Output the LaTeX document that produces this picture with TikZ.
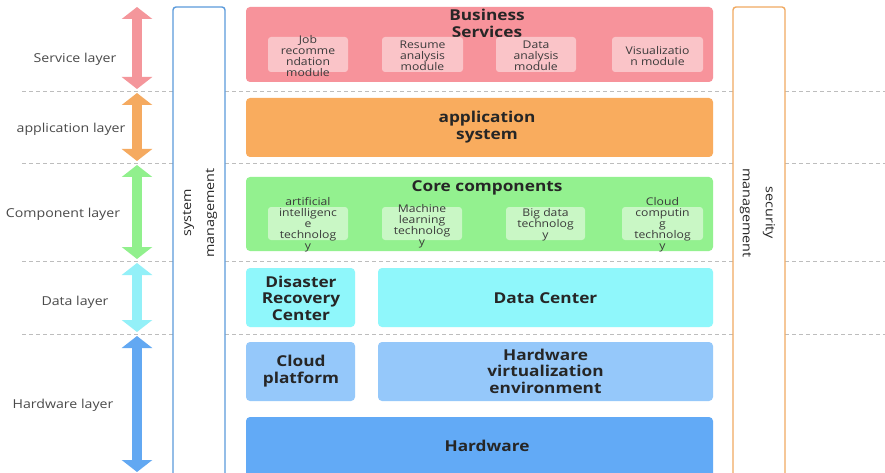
\documentclass[tikz,border=0pt]{standalone}
\usepackage{fontspec}
\setmainfont{Open Sans}[FakeStretch=1.15]
\usetikzlibrary{arrows.meta,fit}

% fills
\definecolor{svcbox}{HTML}{F7939B}
\definecolor{svcsub}{HTML}{FAC4C8}
\definecolor{appbox}{HTML}{F9AC5E}
\definecolor{corebox}{HTML}{93F18F}
\definecolor{coresub}{HTML}{C9F7C5}
\definecolor{databox}{HTML}{8FF7FB}
\definecolor{hwlight}{HTML}{95C8FA}
\definecolor{hwdark}{HTML}{62AAF6}
% arrows
\definecolor{svcarr}{HTML}{F4969B}
\definecolor{apparr}{HTML}{F5AA60}
\definecolor{corearr}{HTML}{91F08D}
\definecolor{dataarr}{HTML}{93F0F8}
\definecolor{hwarr}{HTML}{62A8F2}
% frames and text
\definecolor{sysframe}{HTML}{5C9BDB}
\definecolor{secframe}{HTML}{F0AA62}
\definecolor{sepline}{HTML}{BDBDBD}
\definecolor{labeltext}{HTML}{4A4A4A}
\definecolor{maintext}{HTML}{262626}
\definecolor{subtext}{HTML}{3A3A3A}

\begin{document}
\begin{tikzpicture}[x=1pt,y=-1pt,
  blk/.style={rounded corners=4pt, inner sep=0pt, draw=none},
  sub/.style={rounded corners=3pt, inner sep=0pt, draw=none},
  ttl/.style={font=\fontsize{15}{17}\selectfont\bfseries, text=maintext, align=center, inner sep=0pt},
  subtxt/.style={font=\fontsize{10.6}{11}\selectfont, text=subtext, align=center, inner sep=0pt},
  laylbl/.style={font=\fontsize{12.3}{14}\selectfont, text=labeltext, inner sep=0pt},
  mgmt/.style={font=\fontsize{12.5}{23}\selectfont, text=maintext, align=center, inner sep=0pt},
  frame/.style={rounded corners=3pt, line width=1.4pt, fill=white, inner sep=0pt},
  sep/.style={draw=sepline, line width=0.8pt, dash pattern=on 4pt off 3pt},
  span/.style={line width=10pt, {Triangle[width=30pt,length=12pt]}-{Triangle[width=30pt,length=12pt]}},
]
\useasboundingbox (0,0) rectangle (885,473);
\clip (0,0) rectangle (885,473);
\fill[white] (0,0) rectangle (885,473);

% layer separators
\foreach \yy/\nm in {91/a,163/b,261/c,334/d}{
  \coordinate (sepL\nm) at (22,\yy);
  \coordinate (sepR\nm) at (885,\yy);
  \draw[sep] (sepL\nm) -- (sepR\nm);
}

% side management columns
\node[frame, draw=sysframe, fit={(173,7) (225,490)}] (sysm) {};
\node[frame, draw=secframe, fit={(733,7) (785,490)}] (secm) {};
\node[mgmt, rotate=90] (systxt) at (200,213) {system\\management};
\node[mgmt, rotate=-90] (sectxt) at (757.5,213) {security\\management};

% service layer
\node[blk, fill=svcbox, fit={(246,7) (713,82)}] (bs) {};
\node[ttl] (bstxt) at (487,23.5) {Business\\Services};
\node[sub, fill=svcsub, fit={(268,37) (348,72)}] (job) {};
\node[sub, fill=svcsub, fit={(382,37) (463,72)}] (resume) {};
\node[sub, fill=svcsub, fit={(496,37) (576,72)}] (dana) {};
\node[sub, fill=svcsub, fit={(612,37) (703,72)}] (vis) {};
\node[subtxt] (jobtxt) at (308,56) {Job\\recomme\\ndation\\module};
\node[subtxt] (resumetxt) at (422.5,56) {Resume\\analysis\\module};
\node[subtxt] (danatxt) at (536,56) {Data\\analysis\\module};
\node[subtxt] (vistxt) at (657.5,56) {Visualizatio\\n module};

% application layer
\node[blk, fill=appbox, fit={(246,98) (713,157)}] (app) {};
\node[ttl] (apptxt) at (487,127.5) {application\\system};

% component layer
\node[blk, fill=corebox, fit={(246,177) (713,251)}] (core) {};
\node[ttl] (coretxt) at (487,188) {Core components};
\node[sub, fill=coresub, fit={(268,207) (348,240)}] (ai) {};
\node[sub, fill=coresub, fit={(382,207) (462,240)}] (ml) {};
\node[sub, fill=coresub, fit={(506,207) (585,240)}] (bd) {};
\node[sub, fill=coresub, fit={(622,207) (703,240)}] (cc) {};
\node[subtxt] (aitxt) at (308,225) {artificial\\intelligenc\\e\\technolog\\y};
\node[subtxt] (mltxt) at (422,226) {Machine\\learning\\technolog\\y};
\node[subtxt] (bdtxt) at (545.5,225) {Big data\\technolog\\y};
\node[subtxt] (cctxt) at (662.5,225) {Cloud\\computin\\g\\technolog\\y};

% data layer
\node[blk, fill=databox, fit={(246,268) (355,327)}] (drc) {};
\node[ttl, font=\fontsize{15}{16.5}\selectfont\bfseries] (drctxt) at (301,298) {Disaster\\Recovery\\Center};
\node[blk, fill=databox, fit={(378,268) (713,327)}] (dc) {};
\node[ttl] (dctxt) at (545.5,298) {Data Center};

% hardware layer
\node[blk, fill=hwlight, fit={(246,342) (355,401)}] (cloud) {};
\node[ttl] (cloudtxt) at (301,371.5) {Cloud\\platform};
\node[blk, fill=hwlight, fit={(378,342) (713,401)}] (hwv) {};
\node[ttl, font=\fontsize{15}{16.5}\selectfont\bfseries] (hwvtxt) at (545.5,371) {Hardware\\virtualization\\environment};
\node[blk, fill=hwdark, fit={(246,417) (713,490)}] (hw) {};
\node[ttl] (hwtxt) at (487,446) {Hardware};

% layer spans
\coordinate (svcT) at (137,7);   \coordinate (svcB) at (137,89);
\coordinate (appT) at (137,93);  \coordinate (appB) at (137,161);
\coordinate (corT) at (137,165); \coordinate (corB) at (137,259);
\coordinate (datT) at (137,263); \coordinate (datB) at (137,332);
\coordinate (hwT)  at (137,336); \coordinate (hwB)  at (137,472);
\draw[span, draw=svcarr, fill=svcarr] (svcT) -- (svcB);
\draw[span, draw=apparr, fill=apparr] (appT) -- (appB);
\draw[span, draw=corearr, fill=corearr] (corT) -- (corB);
\draw[span, draw=dataarr, fill=dataarr] (datT) -- (datB);
\draw[span, draw=hwarr, fill=hwarr] (hwT) -- (hwB);

% layer names
\node[laylbl] (l1) at (75,59) {Service layer};
\node[laylbl] (l2) at (71,129) {application layer};
\node[laylbl] (l3) at (63,214) {Component layer};
\node[laylbl] (l4) at (75,302) {Data layer};
\node[laylbl] (l5) at (63,405) {Hardware layer};
\end{tikzpicture}
\end{document}
